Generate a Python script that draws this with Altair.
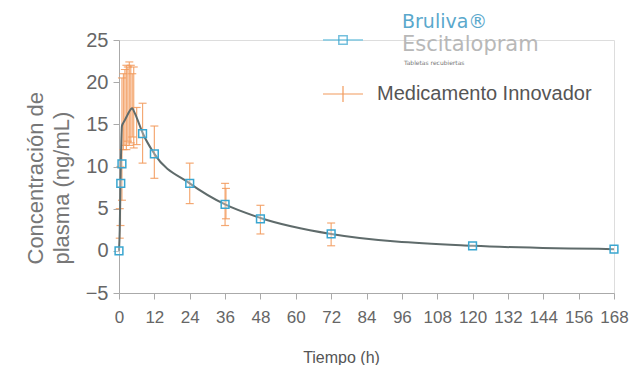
import altair as alt
import pandas as pd

# ---- data ----
curve_t = [0, 0.25, 0.5, 1, 1.5, 2, 3, 4, 4.5, 5, 6, 8, 12, 24, 36, 48, 72, 120, 168]
curve_v = [0, 2.5, 8.0, 14.8, 15.2, 15.5, 16.2, 16.8, 16.9, 16.6, 15.8, 14.0, 11.5, 8.0, 5.5, 3.9, 2.0, 0.6, 0.2]

brul_t = [0, 0.6, 1, 8, 12, 24, 36, 48, 72, 120, 168]
brul_v = [0, 8.0, 10.3, 13.9, 11.5, 8.0, 5.5, 3.8, 2.0, 0.6, 0.2]

inn_t = [0.25, 0.5, 1, 1.5, 2, 2.5, 3, 3.5, 4, 4.5, 5, 6, 8, 12, 24, 36, 36.3, 48, 72]
inn_lo = [1.5, 3.0, 6.0, 12.0, 12.5, 12.0, 13.0, 12.5, 12.8, 13.5, 12.2, 12.6, 10.4, 8.6, 5.6, 3.0, 3.8, 2.0, 0.6]
inn_hi = [5.0, 10.0, 20.5, 21.0, 21.5, 22.0, 21.8, 22.4, 22.0, 21.0, 21.8, 17.0, 17.5, 14.8, 10.4, 8.0, 7.4, 5.4, 3.3]

x_ticks = list(range(0, 169, 12))
y_ticks = [-5, 0, 5, 10, 15, 20, 25]

FONT = "Liberation Sans, Arial, sans-serif"

curve = pd.DataFrame({"t": curve_t, "v": curve_v})
brul = pd.DataFrame({"t": brul_t, "v": brul_v})
inn = pd.DataFrame({"t": inn_t, "lo": inn_lo, "hi": inn_hi})

xs = alt.Scale(domain=[0, 168], nice=False)
ys = alt.Scale(domain=[-5, 25], nice=False)

x_axis = alt.Axis(values=x_ticks, title="Tiempo (h)", grid=False, labelFontSize=17,
                  labelFont=FONT, titleFont=FONT, titleFontSize=16, titleFontWeight="normal",
                  labelColor="#666", titleColor="#555", domainColor="#aaa", tickColor="#aaa",
                  tickSize=6, labelPadding=10, titleX=222, titleY=64, titleBaseline="middle",
                  labelFlush=False, labelOverlap=False)
y_axis = alt.Axis(values=y_ticks, title=["Concentración de", "plasma (ng/mL)"], grid=False,
                  labelFontSize=20, labelFont=FONT, titleFont=FONT,
                  titleFontSize=22, titleFontWeight="normal", labelColor="#666", titleColor="#777",
                  domainColor="#aaa", tickColor="#aaa", tickSize=6, labelPadding=5,
                  titleAngle=-90, titleAlign="left", titleBaseline="top", titleX=-94, titleY=224,
                  titleLineHeight=26, labelOverlap=False)

X = alt.X("t:Q", scale=xs, axis=x_axis)

def Y(field):
    return alt.Y(field, scale=ys, axis=y_axis)

ORANGE = "#f29a5c"

err = alt.Chart(inn).mark_rule(color=ORANGE, strokeWidth=1.2, opacity=0.85).encode(
    x=X, y=Y("lo:Q"), y2="hi:Q")
cap_lo = alt.Chart(inn).mark_tick(color=ORANGE, orient="horizontal", size=8, thickness=1.2, opacity=0.85).encode(
    x=X, y=Y("lo:Q"))
cap_hi = alt.Chart(inn).mark_tick(color=ORANGE, orient="horizontal", size=8, thickness=1.2, opacity=0.85).encode(
    x=X, y=Y("hi:Q"))

line = alt.Chart(curve).mark_line(color="#5f6b6b", strokeWidth=2, interpolate="monotone").encode(
    x=X, y=Y("v:Q"))

pts = alt.Chart(brul).mark_point(shape="square", size=60, filled=False, color="#3aa6d0",
                                 strokeWidth=1.5, fill="white", fillOpacity=0.3).encode(
    x=X, y=Y("v:Q"))

# ---- legend ----
leg = pd.DataFrame({"k": [0]})
leg_blue_line = alt.Chart(leg).mark_rule(color="#7cc7e0", strokeWidth=1.5).encode(
    x=alt.value(204), x2=alt.value(244), y=alt.value(0))
leg_blue_sq = alt.Chart(leg).mark_point(shape="square", size=70, filled=False, color="#3aa6d0",
                                        strokeWidth=1.5).encode(x=alt.value(224), y=alt.value(0))
leg_or_line = alt.Chart(leg).mark_rule(color=ORANGE, strokeWidth=1.2).encode(
    x=alt.value(204), x2=alt.value(244), y=alt.value(54))
leg_or_tick = alt.Chart(leg).mark_rule(color=ORANGE, strokeWidth=1.2).encode(
    x=alt.value(224), y=alt.value(46), y2=alt.value(62))
leg_txt1 = alt.Chart(leg).mark_text(text="Medicamento Innovador", align="left", baseline="middle",
                                    font=FONT, fontSize=20, color="#555").encode(
    x=alt.value(258), y=alt.value(54))
leg_brul = alt.Chart(leg).mark_text(text="Bruliva®", align="left", baseline="middle",
                                    font="DejaVu Sans, sans-serif", fontSize=19, color="#5aa8cc").encode(
    x=alt.value(283), y=alt.value(-18))
leg_esc = alt.Chart(leg).mark_text(text="Escitalopram", align="left", baseline="middle",
                                   font="DejaVu Sans, sans-serif", fontSize=21, color="#b8b8b8").encode(
    x=alt.value(283), y=alt.value(5))
leg_tab = alt.Chart(leg).mark_text(text="Tabletas recubiertas", align="left", baseline="middle",
                                   font="DejaVu Sans, sans-serif", fontSize=6, color="#777").encode(
    x=alt.value(285), y=alt.value(23))

chart = alt.layer(err, cap_lo, cap_hi, line, pts,
                  leg_blue_line, leg_blue_sq, leg_or_line, leg_or_tick, leg_txt1,
                  leg_brul, leg_esc, leg_tab).properties(
    width=495, height=253,
    autosize=alt.AutoSizeParams(type="none"),
    padding={"left": 111, "top": 32, "right": 16, "bottom": 72},
).configure_view(stroke=None).configure(background="white")

chart.save("out.html", embed_options={"renderer": "svg", "actions": False})
